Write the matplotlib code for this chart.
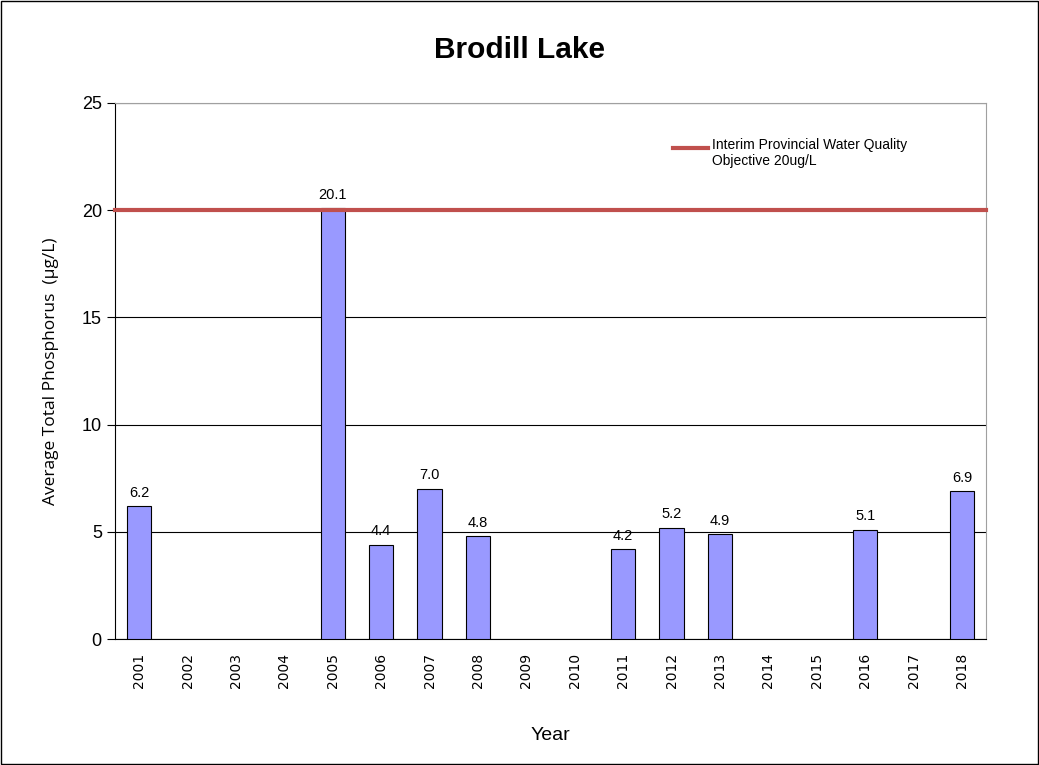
import numpy as np
import matplotlib.pyplot as plt
from matplotlib.patches import Rectangle

years = [str(y) for y in range(2001, 2019)]
values = [6.2, np.nan, np.nan, np.nan, 20.1, 4.4, 7.0, 4.8, np.nan, np.nan,
          4.2, 5.2, 4.9, np.nan, np.nan, 5.1, np.nan, 6.9]
objective = 20

plt.rcParams['font.family'] = ['Liberation Sans', 'DejaVu Sans']

fig = plt.figure(figsize=(10.39, 7.65), dpi=100)
ax = fig.add_axes([0.1107, 0.1647, 0.8384, 0.7007])

x = np.arange(len(years))
bars = ax.bar(x, values, width=0.5, color='#9999ff', edgecolor='black',
              linewidth=0.8, zorder=3)
for xi, v in zip(x, values):
    if not np.isnan(v):
        ax.text(xi, v + 0.3, f"{v:.1f}", ha='center', va='bottom', fontsize=10.5)

ax.axhline(objective, color='#c0504d', linewidth=3, zorder=4, clip_on=False)

ax.set_xlim(-0.5, len(years) - 0.5)
ax.set_ylim(0, 25)
ax.set_yticks([0, 5, 10, 15, 20, 25])
ax.tick_params(axis='y', labelsize=13, length=6, width=0.8, pad=3.5)
ax.set_xticks(x)
ax.set_xticklabels(years, rotation=90, fontsize=10, family='DejaVu Sans')
ax.tick_params(axis='x', length=0, pad=10)
ax.grid(axis='y', color='black', linewidth=0.8, zorder=0)
ax.spines['top'].set_color('#a0a0a0')
ax.spines['right'].set_color('#a0a0a0')

ax.set_ylabel('Average Total Phosphorus  (µg/L)', fontsize=12.5,
              family=['Open Sans', 'DejaVu Sans'], labelpad=16)
ax.set_xlabel('Year', fontsize=14, labelpad=28)
fig.text(0.5, 0.935, 'Brodill Lake', ha='center', va='center',
         fontsize=21.5, fontweight='bold')

# legend
fig.lines.append(plt.Line2D([0.648, 0.681], [0.8065, 0.8065], color='#c0504d',
                            linewidth=3, transform=fig.transFigure))
fig.text(0.685, 0.819, 'Interim Provincial Water Quality\nObjective 20ug/L',
         ha='left', va='top', fontsize=10, linespacing=1.1,
         transform=fig.transFigure)

fig.patches.append(Rectangle((0.001, 0.001), 0.998, 0.998, fill=False,
                             edgecolor='black', linewidth=1,
                             transform=fig.transFigure))

fig.savefig('out.png', dpi=100)
